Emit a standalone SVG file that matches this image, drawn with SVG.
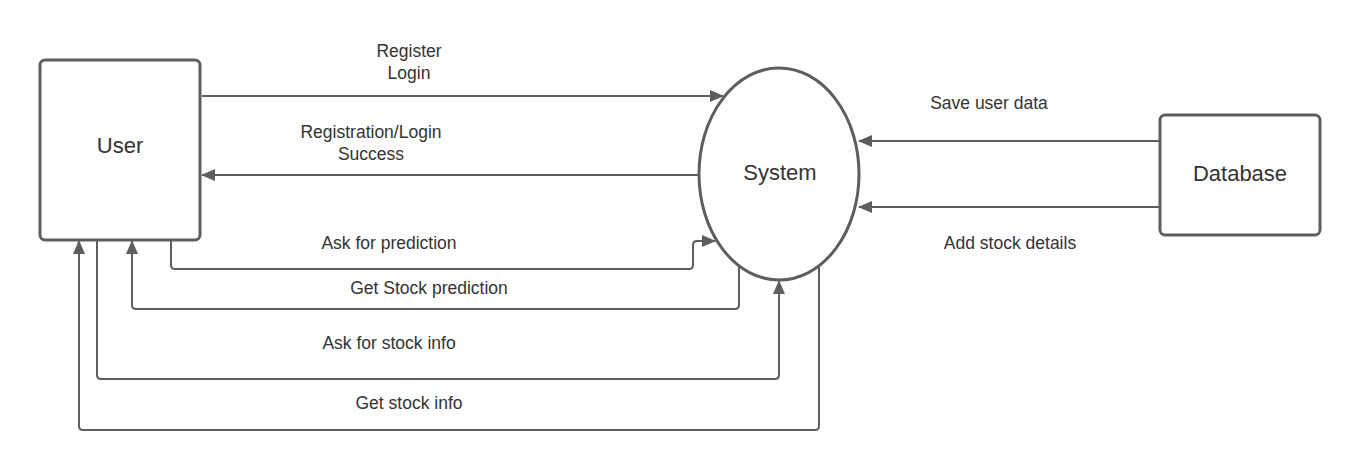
<svg xmlns="http://www.w3.org/2000/svg" width="1360" height="471" viewBox="0 0 1360 471">
<style>
.node{fill:#fff;stroke:#5e5e5e;stroke-width:3}
.c{fill:none;stroke:#5e5e5e;stroke-width:2;stroke-linejoin:round}
.t{font-family:"Liberation Sans",Arial,sans-serif;fill:#333;text-anchor:middle}
.n{font-size:22px}
.l{font-size:17.5px}
</style>
<defs>
<marker id="a" viewBox="0 0 14 12" refX="13" refY="6" markerWidth="14" markerHeight="12" markerUnits="userSpaceOnUse" orient="auto">
<path d="M0,0 L14,6 L0,12 Z" fill="#5e5e5e"/>
</marker>
</defs>
<rect width="1360" height="471" fill="#fff"/>
<g id="connectors">
<path class="c" d="M202,96 H723" marker-end="url(#a)"/>
<path class="c" d="M699,175 H202" marker-end="url(#a)"/>
<path class="c" d="M171,241 V265 Q171,269 175,269 H689 Q693,269 693,265 V245 Q693,241 697,241 H715" marker-end="url(#a)"/>
<path class="c" d="M739,266 V305 Q739,309 735,309 H136 Q132,309 132,305 V241" marker-end="url(#a)"/>
<path class="c" d="M97,241 V375 Q97,379 101,379 H775 Q779,379 779,375 V281" marker-end="url(#a)"/>
<path class="c" d="M819,267 V426 Q819,430 815,430 H83 Q79,430 79,426 V241" marker-end="url(#a)"/>
<path class="c" d="M1160,141 H859" marker-end="url(#a)"/>
<path class="c" d="M1160,207 H859" marker-end="url(#a)"/>
<text class="t l" x="409" y="57">Register</text>
<text class="t l" x="409" y="79">Login</text>
<text class="t l" x="371" y="138">Registration/Login</text>
<text class="t l" x="371" y="160">Success</text>
<text class="t l" x="389" y="249">Ask for prediction</text>
<text class="t l" x="429" y="294">Get Stock prediction</text>
<text class="t l" x="389" y="349">Ask for stock info</text>
<text class="t l" x="409" y="409">Get stock info</text>
<text class="t l" x="989" y="109">Save user data</text>
<text class="t l" x="1010" y="249">Add stock details</text>
</g>
<g id="user">
<rect class="node" x="40" y="60" width="160" height="180" rx="5"/>
<text class="t n" x="120" y="153">User</text>
</g>
<g id="system">
<ellipse class="node" cx="779" cy="174" rx="80" ry="106"/>
<text class="t n" x="780" y="180">System</text>
</g>
<g id="database">
<rect class="node" x="1160" y="115" width="160" height="120" rx="5"/>
<text class="t n" x="1240" y="181">Database</text>
</g>
</svg>
